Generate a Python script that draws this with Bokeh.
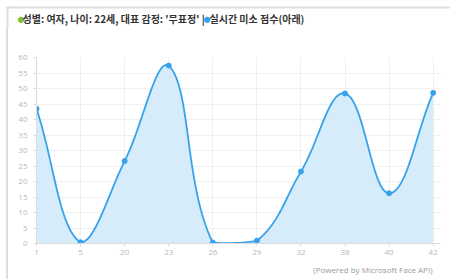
import numpy as np
from bokeh.plotting import figure
from bokeh.layouts import column
from bokeh.models import Range1d, FixedTicker, Label, BoxAnnotation, Title
from bokeh.embed import file_html
from bokeh.resources import INLINE

# ---- data ----
categories = ["1", "5", "20", "23", "26", "29", "32", "38", "40", "42"]
smile_scores = [43.5, 0.4, 26.6, 57.4, 0.3, 0.9, 23.2, 48.4, 16.2, 48.6]
y_ticks = list(range(0, 61, 5))
title_part1 = "성별: 여자, 나이: 22세, 대표 감정: '무표정' |"
title_part2 = "실시간 미소 점수(아래)"
credit = "(Powered by Microsoft Face API)"

LINE = "#36a2eb"
FILL = "#d7ecfb"
GREEN = "#7cc142"
BORDER = "#dedede"
FONT = "Noto Sans CJK KR"

# ---- header (title row) ----
HW, HH = 450, 28
header = figure(width=HW, height=HH, output_backend="svg", toolbar_location=None,
                x_range=Range1d(0, HW), y_range=Range1d(HH, 0),
                x_axis_type=None, y_axis_type=None,
                min_border_left=0, min_border_right=0, min_border_top=0, min_border_bottom=0)
header.outline_line_color = None
header.grid.visible = False
if "frame_align" in header.properties():
    header.frame_align = False
header.add_layout(BoxAnnotation(left=6, right=HW, top=6, bottom=8,
                                fill_color=BORDER, fill_alpha=1, line_color=None))
header.add_layout(BoxAnnotation(left=6, right=8, top=6, bottom=HH,
                                fill_color=BORDER, fill_alpha=1, line_color=None))

def add_label(x, y, text, color, size, style="bold"):
    header.add_layout(Label(x=x, y=y, text=text, text_color=color, text_font=FONT,
                            text_font_size=size, text_font_style=style,
                            text_align="left", text_baseline="middle"))

add_label(17, 18, "●", GREEN, "7px", "normal")
add_label(22, 18, title_part1, "#333333", "10px")
add_label(203, 18, "●", LINE, "7px", "normal")
add_label(209, 18, title_part2, "#333333", "10px")

# ---- main chart ----
W, H = 450, 251
ML, MR, MT, MB = 36, 10, 29, 36
X_END = 9.166
Y_MAX = 60
frame_w = W - ML - MR
frame_h = H - MT - MB
sx = frame_w / X_END
sy = frame_h / Y_MAX

p = figure(width=W, height=H, output_backend="svg", toolbar_location=None,
           x_range=Range1d(0, X_END), y_range=Range1d(0, Y_MAX),
           min_border_left=ML, min_border_right=MR, min_border_top=MT,
           min_border_bottom=MB)
if "frame_align" in p.properties():
    p.frame_align = False
p.outline_line_color = None
p.border_fill_color = None
p.styles = {"background": "linear-gradient(to right, #ffffff 0px, #ffffff 6px, "
                          + BORDER + " 6px, " + BORDER + " 8px, #ffffff 8px)"}

# chart.js style bezier (tension 0.4) computed in pixel space, capped to area
xs = np.arange(len(smile_scores), dtype=float)
pts = np.column_stack([xs * sx, np.array(smile_scores) * sy])
n = len(pts)
t = 0.4
cp_prev = np.zeros_like(pts)
cp_next = np.zeros_like(pts)
for i in range(n):
    prev = pts[i - 1] if i > 0 else pts[i]
    cur = pts[i]
    nxt = pts[i + 1] if i < n - 1 else pts[i]
    d01 = np.hypot(*(cur - prev))
    d12 = np.hypot(*(nxt - cur))
    tot = d01 + d12
    s01 = d01 / tot if tot else 0
    s12 = d12 / tot if tot else 0
    cp_prev[i] = cur - t * s01 * (nxt - prev)
    cp_next[i] = cur + t * s12 * (nxt - prev)
for arr in (cp_prev, cp_next):
    arr[:, 0] = np.clip(arr[:, 0], 0, X_END * sx)
    arr[:, 1] = np.clip(arr[:, 1], 0, Y_MAX * sy)

cx, cy = [], []
tt = np.linspace(0, 1, 30)
for i in range(n - 1):
    p0, p1, p2, p3 = pts[i], cp_next[i], cp_prev[i + 1], pts[i + 1]
    seg = ((1 - tt) ** 3)[:, None] * p0 + (3 * (1 - tt) ** 2 * tt)[:, None] * p1 \
        + (3 * (1 - tt) * tt ** 2)[:, None] * p2 + (tt ** 3)[:, None] * p3
    start = 0 if i == 0 else 1
    cx.extend(seg[start:, 0] / sx)
    cy.extend(seg[start:, 1] / sy)

p.varea(x=cx, y1=0, y2=cy, fill_color=FILL, fill_alpha=1)
p.line(cx, cy, line_color=LINE, line_width=1.8)
p.scatter(xs, smile_scores, size=5, fill_color=LINE, line_color=LINE)

# axes
p.xaxis.ticker = FixedTicker(ticks=list(range(len(categories))))
p.xaxis.major_label_overrides = {i: c for i, c in enumerate(categories)}
p.yaxis.ticker = FixedTicker(ticks=y_ticks)
for ax in (p.xaxis, p.yaxis):
    ax.axis_line_color = "#dcdcdc"
    ax.major_tick_line_color = "#dcdcdc"
    ax.minor_tick_line_color = None
    ax.major_label_text_color = "#b8b8b8"
    ax.major_label_text_font = "Open Sans"
    ax.major_label_text_font_size = "8px"
    ax.major_tick_in = 0
    ax.major_tick_out = 3
p.xaxis.major_label_standoff = 3
p.yaxis.major_label_standoff = 6
p.xgrid.ticker = FixedTicker(ticks=list(range(len(categories))))
p.grid.grid_line_color = "#f0f0f0"

p.add_layout(Title(text=credit, align="right", text_font="Open Sans",
                   text_font_size="8px", text_font_style="normal",
                   text_color="#999999", standoff=9, offset=8), "below")

layout = column(header, p, spacing=0)
open("out.html", "w").write(file_html(layout, INLINE))
